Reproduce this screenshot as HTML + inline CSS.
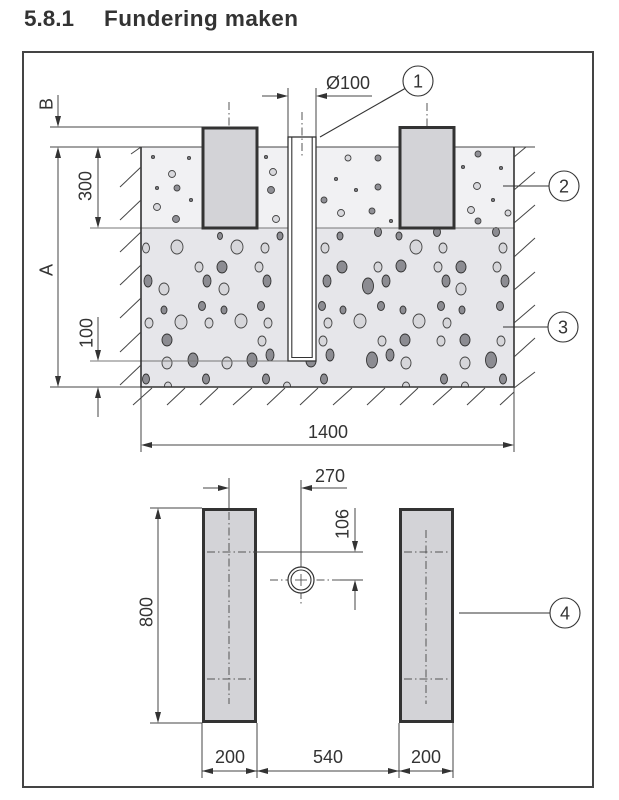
<!DOCTYPE html>
<html><head><meta charset="utf-8"><style>
html,body{margin:0;padding:0;background:#fff;}
svg{display:block;}
text{font-family:"Liberation Sans",Arial,sans-serif;fill:#333;}
</style></head><body>
<svg width="619" height="800" viewBox="0 0 619 800" xmlns="http://www.w3.org/2000/svg">
<defs>
<clipPath id="cc"><rect x="141" y="147" width="373" height="240"/></clipPath>
</defs>
<rect width="619" height="800" fill="#fff"/>
<text x="24" y="26" font-size="22.5" font-weight="bold">5.8.1</text>
<text x="104" y="26" font-size="22.5" font-weight="bold" textLength="194" lengthAdjust="spacing">Fundering maken</text>
<rect x="23" y="52" width="570" height="735" fill="none" stroke="#444" stroke-width="2"/>

<!-- layers -->
<rect x="141" y="147" width="373" height="81" fill="#f1f1f3"/>
<rect x="141" y="228" width="373" height="159" fill="#e6e6ea"/>

<g clip-path="url(#cc)">
<g stroke="#444" stroke-width="0.9">
<g fill="#7a7a80">
<circle cx="153" cy="157" r="1.6"/><circle cx="189" cy="158" r="1.6"/><circle cx="157" cy="188" r="1.6"/><circle cx="191" cy="200" r="1.6"/><circle cx="266" cy="157" r="1.6"/><circle cx="336" cy="179" r="1.6"/><circle cx="356" cy="190" r="1.6"/><circle cx="391" cy="221" r="1.6"/><circle cx="463" cy="167" r="1.6"/><circle cx="501" cy="168" r="1.6"/><circle cx="493" cy="200" r="1.6"/>
</g>
<g fill="#d8d8dc">
<circle cx="172" cy="174" r="3.5"/><circle cx="157" cy="207" r="3.5"/><circle cx="273" cy="172" r="3.5"/><circle cx="276" cy="219" r="3.5"/><circle cx="348" cy="158" r="3"/><circle cx="341" cy="213" r="3.5"/><circle cx="477" cy="186" r="3.5"/><circle cx="471" cy="210" r="3.5"/><circle cx="508" cy="213" r="3"/>
</g>
<g fill="#909096">
<circle cx="177" cy="188" r="3"/><circle cx="176" cy="219" r="3.5"/><circle cx="271" cy="190" r="3.5"/><circle cx="324" cy="200" r="3"/><circle cx="378" cy="158" r="3"/><circle cx="378" cy="187" r="3"/><circle cx="372" cy="211" r="3"/><circle cx="478" cy="154" r="3"/><circle cx="478" cy="221" r="3"/>
</g>
<!-- layer 3 light -->
<g fill="#d6d6da">
<ellipse cx="146" cy="248" rx="3.5" ry="5"/><ellipse cx="177" cy="247" rx="6" ry="7"/><ellipse cx="237" cy="247" rx="6" ry="7"/><ellipse cx="265" cy="248" rx="4" ry="5"/><ellipse cx="199" cy="267" rx="4" ry="5"/><ellipse cx="259" cy="267" rx="4" ry="5"/><ellipse cx="164" cy="289" rx="5" ry="6"/><ellipse cx="224" cy="289" rx="5" ry="6"/><ellipse cx="149" cy="323" rx="4" ry="5"/><ellipse cx="181" cy="322" rx="6" ry="7"/><ellipse cx="209" cy="323" rx="4" ry="5"/><ellipse cx="241" cy="321" rx="6" ry="7"/><ellipse cx="268" cy="323" rx="4" ry="5"/><ellipse cx="262" cy="341" rx="4" ry="5"/><ellipse cx="167" cy="363" rx="5" ry="6"/><ellipse cx="227" cy="363" rx="5" ry="6"/><ellipse cx="168" cy="386" rx="3.5" ry="4"/><ellipse cx="287" cy="386" rx="3.5" ry="4"/>
<ellipse cx="325" cy="248" rx="4" ry="5"/><ellipse cx="416" cy="247" rx="6" ry="7"/><ellipse cx="443" cy="248" rx="4" ry="5"/><ellipse cx="503" cy="248" rx="4" ry="5"/><ellipse cx="378" cy="267" rx="4" ry="5"/><ellipse cx="438" cy="267" rx="4" ry="5"/><ellipse cx="497" cy="267" rx="4" ry="5"/><ellipse cx="461" cy="289" rx="5" ry="6"/><ellipse cx="328" cy="323" rx="4" ry="5"/><ellipse cx="360" cy="321" rx="6" ry="7"/><ellipse cx="419" cy="321" rx="6" ry="7"/><ellipse cx="447" cy="323" rx="4" ry="5"/><ellipse cx="323" cy="341" rx="4" ry="5"/><ellipse cx="382" cy="341" rx="4" ry="5"/><ellipse cx="441" cy="341" rx="4" ry="5"/><ellipse cx="501" cy="341" rx="4" ry="5"/><ellipse cx="406" cy="363" rx="5" ry="6"/><ellipse cx="465" cy="363" rx="5" ry="6"/><ellipse cx="406" cy="386" rx="3.5" ry="4"/><ellipse cx="465" cy="386" rx="3.5" ry="4"/>
</g>
<g fill="#8c8c92" stroke="#333">
<ellipse cx="220" cy="236" rx="2.5" ry="3.5"/><ellipse cx="280" cy="236" rx="3" ry="4"/><ellipse cx="222" cy="267" rx="5" ry="6"/><ellipse cx="148" cy="281" rx="4" ry="6"/><ellipse cx="207" cy="281" rx="4" ry="6"/><ellipse cx="267" cy="281" rx="4" ry="6"/><ellipse cx="164" cy="310" rx="3" ry="4"/><ellipse cx="202" cy="306" rx="3.5" ry="4.5"/><ellipse cx="224" cy="310" rx="3" ry="4"/><ellipse cx="261" cy="306" rx="3.5" ry="4.5"/><ellipse cx="167" cy="340" rx="5" ry="6"/><ellipse cx="270" cy="355" rx="4" ry="6"/><ellipse cx="193" cy="360" rx="5" ry="7"/><ellipse cx="252" cy="360" rx="5" ry="7"/><ellipse cx="311" cy="361" rx="5" ry="6"/><ellipse cx="146" cy="379" rx="3.5" ry="5"/><ellipse cx="206" cy="379" rx="3.5" ry="5"/><ellipse cx="266" cy="379" rx="3.5" ry="5"/>
<ellipse cx="340" cy="236" rx="3" ry="4"/><ellipse cx="378" cy="232" rx="3.5" ry="4.5"/><ellipse cx="399" cy="236" rx="3" ry="4"/><ellipse cx="437" cy="232" rx="3.5" ry="4.5"/><ellipse cx="496" cy="232" rx="3.5" ry="4.5"/><ellipse cx="342" cy="267" rx="5" ry="6"/><ellipse cx="401" cy="266" rx="5" ry="6"/><ellipse cx="461" cy="267" rx="5" ry="6"/><ellipse cx="327" cy="281" rx="4" ry="6"/><ellipse cx="368" cy="286" rx="5.5" ry="8"/><ellipse cx="386" cy="281" rx="4" ry="6"/><ellipse cx="446" cy="281" rx="4" ry="6"/><ellipse cx="505" cy="281" rx="4" ry="6"/><ellipse cx="322" cy="306" rx="3.5" ry="4.5"/><ellipse cx="343" cy="310" rx="3" ry="4"/><ellipse cx="381" cy="306" rx="3.5" ry="4.5"/><ellipse cx="403" cy="310" rx="3" ry="4"/><ellipse cx="441" cy="306" rx="3.5" ry="4.5"/><ellipse cx="462" cy="310" rx="3" ry="4"/><ellipse cx="500" cy="306" rx="3.5" ry="4.5"/><ellipse cx="405" cy="340" rx="5" ry="6"/><ellipse cx="465" cy="340" rx="5" ry="6"/><ellipse cx="330" cy="355" rx="4" ry="6"/><ellipse cx="372" cy="360" rx="5.5" ry="8"/><ellipse cx="390" cy="355" rx="4" ry="6"/><ellipse cx="491" cy="360" rx="5.5" ry="8"/><ellipse cx="324" cy="379" rx="3.5" ry="5"/><ellipse cx="444" cy="379" rx="3.5" ry="5"/><ellipse cx="503" cy="379" rx="3.5" ry="5"/>
</g>
</g>
</g>

<!-- layer boundary & extension lines -->
<g stroke="#777" stroke-width="1.1" fill="none">
<line x1="90" y1="228" x2="514" y2="228"/>
<line x1="90" y1="361" x2="288" y2="361"/>
</g>
<g stroke="#444" stroke-width="1" fill="none">
<line x1="50" y1="127" x2="202" y2="127"/>
<line x1="50" y1="147" x2="535" y2="147"/>
<line x1="50" y1="387" x2="141" y2="387"/>
<line x1="141" y1="387" x2="141" y2="452"/>
<line x1="514" y1="387" x2="514" y2="452"/>
<line x1="288" y1="88" x2="288" y2="137"/>
<line x1="316" y1="88" x2="316" y2="137"/>
</g>
<!-- concrete outline -->
<path d="M141 147 V387 H514 V147" fill="none" stroke="#333" stroke-width="1.6"/>

<!-- hatching -->
<g stroke="#444" stroke-width="1">
<line x1="131" y1="154" x2="141" y2="147"/>
<line x1="120" y1="187" x2="141" y2="167"/><line x1="120" y1="220" x2="141" y2="200"/><line x1="120" y1="252" x2="141" y2="232"/><line x1="120" y1="285" x2="141" y2="265"/><line x1="120" y1="318" x2="141" y2="298"/><line x1="120" y1="352" x2="141" y2="332"/><line x1="120" y1="385" x2="141" y2="365"/>
<line x1="514" y1="157" x2="526" y2="147"/>
<line x1="514" y1="190" x2="535" y2="172"/><line x1="514" y1="223" x2="535" y2="205"/><line x1="514" y1="257" x2="535" y2="238"/><line x1="514" y1="290" x2="535" y2="272"/><line x1="514" y1="323" x2="535" y2="305"/><line x1="514" y1="357" x2="535" y2="338"/><line x1="514" y1="388" x2="535" y2="372"/>
<line x1="133" y1="405" x2="152" y2="388"/><line x1="167" y1="405" x2="185" y2="388"/><line x1="200" y1="405" x2="218" y2="388"/><line x1="233" y1="405" x2="252" y2="388"/><line x1="267" y1="405" x2="285" y2="388"/><line x1="300" y1="405" x2="318" y2="388"/><line x1="333" y1="405" x2="352" y2="388"/><line x1="367" y1="405" x2="385" y2="388"/><line x1="400" y1="405" x2="418" y2="388"/><line x1="433" y1="405" x2="452" y2="388"/><line x1="467" y1="405" x2="485" y2="388"/><line x1="500" y1="405" x2="514" y2="392"/>
</g>

<!-- pipe -->
<rect x="288" y="137" width="28" height="224" fill="#fff" stroke="#333" stroke-width="1.3"/>
<path d="M291.8 137 V357.5 H312.2 V137" fill="none" stroke="#333" stroke-width="1.1"/>

<!-- blocks top -->
<rect x="203" y="128" width="54" height="100" fill="#d3d3d7" stroke="#333" stroke-width="3"/>
<rect x="400" y="127.5" width="54" height="100.5" fill="#d3d3d7" stroke="#333" stroke-width="3"/>

<!-- centerlines top -->
<g stroke="#555" stroke-width="1" stroke-dasharray="8 3 1.5 3" fill="none">
<line x1="229" y1="102" x2="229" y2="127"/>
<line x1="427" y1="103" x2="427" y2="126"/>
<line x1="302" y1="112" x2="302" y2="156"/>
</g>

<!-- top dimensions -->
<g stroke="#444" stroke-width="1" fill="none">
<line x1="58" y1="95" x2="58" y2="120"/>
<line x1="58" y1="154" x2="58" y2="380"/>
<line x1="98" y1="154" x2="98" y2="221"/>
<line x1="98" y1="317" x2="98" y2="354"/>
<line x1="98" y1="394" x2="98" y2="417"/>
<line x1="262" y1="96" x2="281" y2="96"/>
<line x1="323" y1="96" x2="372" y2="96"/>
<line x1="148" y1="445" x2="507" y2="445"/>
</g>
<g fill="#333">
<polygon points="55,116 61,116 58,127"/>
<polygon points="55,158 61,158 58,147"/>
<polygon points="55,376 61,376 58,387"/>
<polygon points="95,158 101,158 98,147"/>
<polygon points="95,217 101,217 98,228"/>
<polygon points="95,350 101,350 98,361"/>
<polygon points="95,398 101,398 98,387"/>
<polygon points="277,93 277,99 288,96"/>
<polygon points="327,93 327,99 316,96"/>
<polygon points="152,442 152,448 141,445"/>
<polygon points="503,442 503,448 514,445"/>
</g>
<text font-size="18" text-anchor="middle" transform="rotate(-90 46 104)" x="46" y="110.5">B</text>
<text font-size="18" text-anchor="middle" transform="rotate(-90 85 186)" x="85" y="192.5">300</text>
<text font-size="18" text-anchor="middle" transform="rotate(-90 46 270)" x="46" y="276.5">A</text>
<text font-size="18" text-anchor="middle" transform="rotate(-90 86 333)" x="86" y="339.5">100</text>
<text font-size="18" x="326" y="89">Ø100</text>
<text font-size="18" text-anchor="middle" x="328" y="438">1400</text>

<!-- callouts -->
<g stroke="#333" stroke-width="1.1" fill="#fff">
<line x1="320" y1="137" x2="405" y2="88.5"/>
<line x1="503" y1="186" x2="549" y2="186"/>
<line x1="503" y1="327" x2="548" y2="327"/>
<line x1="459" y1="613" x2="550" y2="613"/>
<circle cx="418" cy="81" r="15"/>
<circle cx="564" cy="186" r="15"/>
<circle cx="563" cy="327" r="15"/>
<circle cx="565" cy="613" r="15"/>
</g>
<g font-size="18" text-anchor="middle">
<text x="418" y="87.5">1</text>
<text x="564" y="192.5">2</text>
<text x="563" y="333.5">3</text>
<text x="565" y="619.5">4</text>
</g>

<!-- bottom plan -->
<rect x="203.5" y="509.5" width="52" height="212" fill="#d3d3d7" stroke="#333" stroke-width="3"/>
<rect x="400.5" y="509.5" width="52" height="212" fill="#d3d3d7" stroke="#333" stroke-width="3"/>
<g stroke="#555" stroke-width="1" stroke-dasharray="8 3 1.5 3" fill="none">
<line x1="229" y1="512" x2="229" y2="704"/>
<line x1="207" y1="552" x2="253" y2="552"/>
<line x1="207" y1="679" x2="252" y2="679"/>
<line x1="426" y1="530" x2="426" y2="704"/>
<line x1="404" y1="552" x2="450" y2="552"/>
<line x1="404" y1="679" x2="450" y2="679"/>
<line x1="270" y1="580" x2="340" y2="580"/>
<line x1="301" y1="560" x2="301" y2="606"/>
</g>
<circle cx="301" cy="580" r="13" fill="#fff" stroke="#333" stroke-width="1.2"/>
<circle cx="301" cy="580" r="10" fill="none" stroke="#333" stroke-width="1.1"/>
<g stroke="#555" stroke-width="0.9" fill="none">
<line x1="301" y1="574" x2="301" y2="586"/>
<line x1="295" y1="580" x2="307" y2="580"/>
</g>
<g stroke="#444" stroke-width="1" fill="none">
<line x1="229" y1="478" x2="229" y2="508"/>
<line x1="301" y1="480" x2="301" y2="560"/>
<line x1="203" y1="488" x2="220" y2="488"/>
<line x1="310" y1="488" x2="347" y2="488"/>
<line x1="253" y1="552" x2="363" y2="552"/>
<line x1="340" y1="580" x2="363" y2="580"/>
<line x1="355" y1="508" x2="355" y2="543"/>
<line x1="355" y1="589" x2="355" y2="610"/>
<line x1="150" y1="508" x2="202" y2="508"/>
<line x1="150" y1="723" x2="202" y2="723"/>
<line x1="158" y1="517" x2="158" y2="714"/>
<line x1="202" y1="723" x2="202" y2="778"/>
<line x1="257" y1="723" x2="257" y2="778"/>
<line x1="399" y1="723" x2="399" y2="778"/>
<line x1="453" y1="723" x2="453" y2="778"/>
<line x1="202" y1="771" x2="453" y2="771"/>
</g>
<g fill="#333">
<polygon points="218,485 218,491 229,488"/>
<polygon points="312,485 312,491 301,488"/>
<polygon points="352,541 358,541 355,552"/>
<polygon points="352,591 358,591 355,580"/>
<polygon points="155,519 161,519 158,508"/>
<polygon points="155,712 161,712 158,723"/>
<polygon points="213,768 213,774 202,771"/>
<polygon points="246,768 246,774 257,771"/>
<polygon points="268,768 268,774 257,771"/>
<polygon points="388,768 388,774 399,771"/>
<polygon points="410,768 410,774 399,771"/>
<polygon points="442,768 442,774 453,771"/>
</g>
<g font-size="18">
<text x="315" y="482">270</text>
<text text-anchor="middle" transform="rotate(-90 342 524)" x="342" y="530.5">106</text>
<text text-anchor="middle" transform="rotate(-90 146 612)" x="146" y="618.5">800</text>
<text text-anchor="middle" x="230" y="763">200</text>
<text text-anchor="middle" x="328" y="763">540</text>
<text text-anchor="middle" x="426" y="763">200</text>
</g>
</svg>
</body></html>
